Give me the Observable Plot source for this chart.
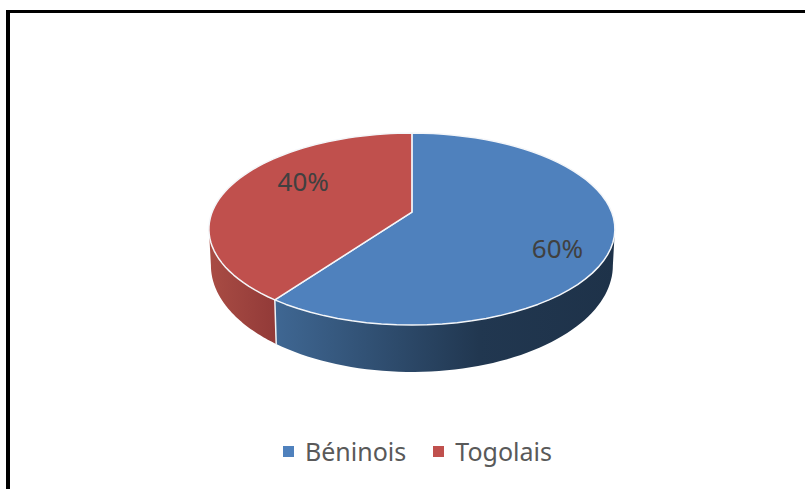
<!DOCTYPE html>
<html>
<head>
<meta charset="utf-8">
<script src="https://cdn.jsdelivr.net/npm/d3@7"></script>
<script src="https://cdn.jsdelivr.net/npm/@observablehq/plot@0.6"></script>
<style>
  html, body { margin: 0; padding: 0; background: #fff; }
  #frame { position: absolute; left: 6px; top: 10px; right: 0; bottom: 0; border-left: 4px solid #000; border-top: 3px solid #000; pointer-events: none; }
  #chart svg { display: block; }
  #legend { display: flex; align-items: center; height: 59px; margin-left: 283px; margin-top: -9px; font: 25px "Noto Sans", sans-serif; color: #595959; }
  #legend i { display: inline-block; width: 11px; height: 11px; margin-right: 11px; position: relative; top: 1px; }
  #legend span { display: flex; align-items: center; margin-right: 27px; }
</style>
</head>
<body>
<div id="chart"></div>
<div id="legend"></div>
<div id="frame"></div>
<script>
// Data
const categories = ["Béninois", "Togolais"];
const shares = [60, 40];
const labels = ["60%", "40%"];
const topColors = ["#4f81bd", "#c0504d"];

// Layout of the tilted disc (style only)
const tiltK = 0.177, depth = 0.37, bottomScaleX = 0.99, bottomScaleY = 1.11;
const labelRadius = [0.74, 0.585], labelLift = 1.75;
const sideStops = [
  [["0%", "#3f6793"], ["60%", "#213750"], ["100%", "#1e3249"]],
  [["0%", "#a94c44"], ["100%", "#923a38"]]
];
const rad = Math.PI / 180;

// Projection of a disc point: r along clock angle (degrees) with perspective
function project(deg, r = 1) {
  const s = Math.sin(deg * rad) * r, c = Math.cos(deg * rad) * r, w = 1 + tiltK * c;
  return {px: s / w, py: c / w};
}
const topRim = (deg) => project(deg);
const botRim = (deg) => { const p = project(deg); return {px: p.px * bottomScaleX, py: p.py * bottomScaleY - depth}; };
const arc = (a, b) => d3.range(0, 61).map((i) => a + (b - a) * i / 60);

// Slice angles from the shares
const total = d3.sum(shares);
const ends = d3.cumsum(shares).map((v) => v / total * 360);
const starts = ends.map((_, i) => (i ? ends[i - 1] : 0));

// Visible front wall: from the right silhouette to the left silhouette
const silhouette = Math.acos(-tiltK) / rad;
const wallFrom = silhouette, wallTo = 360 - silhouette;

const marks = [];

// gradient defs
marks.push(() => {
  const ns = "http://www.w3.org/2000/svg";
  const defs = document.createElementNS(ns, "defs");
  sideStops.forEach((stops, i) => {
    const g = document.createElementNS(ns, "linearGradient");
    g.setAttribute("id", "side" + i);
    stops.forEach(([o, c]) => {
      const st = document.createElementNS(ns, "stop");
      st.setAttribute("offset", o);
      st.setAttribute("stop-color", c);
      g.appendChild(st);
    });
    defs.appendChild(g);
  });
  return defs;
});

// walls
categories.forEach((_, i) => {
  const a = Math.max(starts[i], wallFrom), b = Math.min(ends[i], wallTo);
  if (b <= a) return;
  const pts = [...arc(a, b).map(topRim), ...arc(b, a).map(botRim)];
  marks.push(Plot.line(pts, {x: "px", y: "py", fill: `url(#side${i})`, stroke: "none", curve: "linear"}));
});

// divider on the wall
ends.forEach((e) => {
  if (e > wallFrom && e < wallTo) {
    marks.push(Plot.line([topRim(e), botRim(e)], {x: "px", y: "py", stroke: "#eef2f6", strokeWidth: 1.5}));
  }
});

// top slices
categories.forEach((_, i) => {
  const centre = {px: 0, py: 0};
  const pts = [centre, ...arc(starts[i], ends[i]).map(topRim), centre];
  marks.push(Plot.line(pts, {x: "px", y: "py", fill: topColors[i], stroke: "#f4f6f9", strokeWidth: 1.5, strokeLinejoin: "round", curve: "linear"}));
});

// data labels
const labelRows = categories.map((_, i) => {
  const p = project((starts[i] + ends[i]) / 2, labelRadius[i]);
  return {px: p.px, py: p.py * labelLift, text: labels[i]};
});
marks.push(Plot.text(labelRows, {x: "px", y: "py", text: "text", fontSize: 26, fontFamily: "'Noto Sans', sans-serif", fill: "#404040", dy: -1, dx: -1}));

const plot = Plot.plot({
  width: 805,
  height: 430,
  margin: 0,
  style: {background: "transparent"},
  x: {axis: null, domain: [-1, 1], range: [211.6, 611.2]},
  y: {axis: null, domain: [-1, 1], range: [304.6, 118.6]},
  marks
});
document.getElementById("chart").appendChild(plot);

// legend
const legend = document.getElementById("legend");
categories.forEach((c, i) => {
  const s = document.createElement("span");
  const sw = document.createElement("i");
  sw.style.background = topColors[i];
  s.appendChild(sw);
  s.appendChild(document.createTextNode(c));
  legend.appendChild(s);
});
</script>
</body>
</html>
